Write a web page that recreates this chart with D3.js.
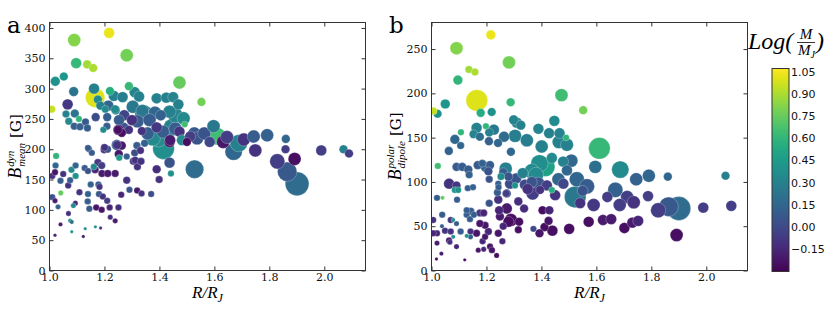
<!DOCTYPE html>
<html>
<head>
<meta charset="utf-8">
<script src="https://cdn.jsdelivr.net/npm/d3@7"></script>
<style>
  body { margin: 0; background: #fff; }
  svg { display: block; }
</style>
</head>
<body>
<svg id="chart" width="830" height="312"></svg>
<script>
// each point: [R/RJ, B (G), log(M/MJ), size value]
const meanField = [
  [1.217,392,1.03,25],[1.09,380,0.82,36],[1.097,342,0.62,25],[1.137,340,0.88,16],[1.159,334,0.9,16],
  [1.281,355,0.78,36],[1.021,312,0.4,20],[1.052,320,0.42,16],[1.088,295,0.22,20],[1.166,285,1.0,81],
  [1.162,300,0.3,25],[1.176,282,0.35,16],[1.22,296,0.55,16],[1.289,304,0.62,16],[1.473,310,0.75,36],
  [1.553,278,0.78,16],[1.008,266,0.95,12],[1.066,274,-0.08,25],[1.06,258,0.3,12],[1.092,259,0.22,16],
  [1.07,246,0.35,12],[1.09,238,0.1,12],[1.107,250,0.6,9],[1.111,237,0.12,12],[1.131,245,0.08,12],
  [1.138,235,0.1,12],[1.168,253,0.02,16],[1.185,272,0.3,16],[1.214,272,0.15,25],[1.241,264,0.3,16],
  [1.21,253,0.1,16],[1.196,232,0.35,9],[1.209,238,0.1,12],[1.234,288,0.3,25],[1.266,286,0.28,25],
  [1.31,294,0.32,25],[1.326,287,0.3,25],[1.39,284,0.3,25],[1.425,285,0.3,25],[1.45,286,0.32,25],
  [1.469,274,0.3,25],[1.303,270,0.25,36],[1.338,263,0.25,36],[1.342,259,0.28,64],[1.384,260,0.15,36],
  [1.272,256,-0.02,25],[1.253,248,0.1,25],[1.3,248,-0.1,25],[1.32,246,0.1,36],[1.405,256,0.12,25],
  [1.364,248,0.1,36],[1.437,262,0.3,36],[1.458,256,0.32,49],[1.488,251,0.35,36],[1.492,241,0.65,9],
  [1.446,236,0.3,64],[1.251,232,-0.2,25],[1.267,234,0.05,36],[1.289,232,-0.1,16],[1.336,230,-0.1,16],
  [1.357,226,0.1,36],[1.39,236,-0.08,25],[1.413,229,0.1,36],[1.376,218,0.35,49],[1.397,218,0.35,64],
  [1.415,201,0.38,100],[1.437,212,-0.25,25],[1.458,234,0.1,36],[1.473,229,-0.1,25],[1.482,215,0.35,25],
  [1.5,212,-0.25,16],[1.512,221,-0.05,25],[1.527,226,0.08,36],[1.537,218,0.05,36],[1.563,226,0.05,36],
  [1.583,212,0.0,25],[1.597,238,0.25,36],[1.612,221,0.65,64],[1.632,212,-0.22,36],[1.646,220,-0.05,36],
  [1.67,196,0.15,64],[1.689,210,0.3,64],[1.707,216,-0.1,36],[1.749,198,-0.1,36],[1.743,221,0.1,36],
  [1.792,223,0.12,36],[1.86,217,0.15,16],[1.859,200,-0.05,16],[1.989,198,-0.05,25],[2.07,200,0.3,16],
  [2.09,193,-0.05,16],[1.829,180,-0.05,49],[1.892,184,-0.25,36],[1.865,163,0.08,81],[1.901,143,0.18,121],
  [1.528,167,0.18,72],[1.144,200,0.12,9],[1.154,194,0.1,9],[1.199,199,-0.1,12],[1.211,200,0.05,12],
  [1.245,207,0.1,25],[1.252,192,-0.22,16],[1.263,206,-0.2,16],[1.281,188,0.1,9],[1.31,194,0.02,12],
  [1.318,206,0.1,12],[1.331,198,-0.1,12],[1.346,210,0.12,12],[1.024,189,0.6,9],[1.254,186,0.45,9],
  [1.022,173,0.15,9],[1.01,156,-0.1,9],[1.02,162,-0.22,9],[1.05,159,-0.1,9],[1.04,148,0.1,9],
  [1.068,140,-0.1,9],[1.075,149,0.1,9],[1.08,166,0.35,9],[1.095,173,0.15,9],[1.095,156,0.4,9],
  [1.01,121,0.05,9],[1.02,115,-0.2,6],[1.041,128,0.75,6],[1.031,105,0.12,6],[1.109,129,-0.1,9],
  [1.094,111,-0.15,6],[1.087,107,0.35,6],[1.069,94,-0.1,6],[1.075,82,0.4,4],[1.081,80,0.2,4],
  [1.04,76,-0.2,4],[1.081,64,0.45,2.5],[1.02,58,-0.2,2.5],[1.123,56,-0.2,2.5],[1.13,69,0.4,2.5],
  [1.167,72,0.4,2.5],[1.186,70,-0.1,2.5],[1.14,126,0.12,9],[1.139,114,0.1,9],[1.145,102,0.08,9],
  [1.15,142,0.12,9],[1.128,169,0.1,9],[1.14,164,0.05,9],[1.161,171,0.35,9],[1.166,166,-0.15,12],
  [1.176,178,-0.08,12],[1.19,173,-0.05,12],[1.191,160,-0.2,12],[1.212,160,-0.2,12],[1.239,160,-0.2,12],
  [1.178,142,0.1,9],[1.182,138,-0.1,9],[1.18,126,0.08,9],[1.194,122,-0.1,9],[1.21,115,-0.05,9],
  [1.17,104,-0.22,9],[1.19,100,-0.22,9],[1.219,104,-0.15,9],[1.251,104,-0.12,9],[1.221,88,-0.12,6],
  [1.239,82,-0.2,6],[1.261,125,-0.15,9],[1.281,149,-0.1,12],[1.291,133,0.05,9],[1.319,132,-0.22,9],
  [1.335,127,-0.1,9],[1.37,126,0.02,9],[1.305,180,-0.05,12],[1.32,171,-0.1,12],[1.39,167,-0.12,16],
  [1.399,150,-0.1,12],[1.437,178,0.05,25],[1.442,160,0.4,9],[1.312,182,-0.1,12],[1.333,180,-0.1,12],
  [1.2,203,-0.1,12],[1.246,207,-0.1,16],[1.14,202,0.08,9],[1.263,227,-0.25,16],[1.249,232,-0.25,16],
  [1.439,215,-0.2,25],[1.203,266,0.35,12],[1.239,266,0.35,16]
];

const dipoleField = [
  [1.216,266,1.03,20],[1.091,251,0.82,36],[1.136,227,0.88,12],[1.158,224,0.9,12],[1.282,235,0.78,36],
  [1.096,215,0.6,20],[1.165,192,1.0,100],[1.288,190,0.62,16],[1.473,198,0.65,36],[1.552,181,0.78,16],
  [1.007,180,0.95,12],[1.022,177,0.4,16],[1.05,188,0.42,20],[1.179,178,0.55,16],[1.219,179,0.4,16],
  [1.107,156,0.6,9],[1.085,148,0.15,20],[1.164,161,0.3,25],[1.153,154,0.32,16],[1.176,151,0.2,16],
  [1.227,159,0.25,25],[1.198,163,0.6,9],[1.21,156,0.3,16],[1.209,146,0.12,16],[1.242,144,0.15,16],
  [1.264,151,0.18,25],[1.299,170,0.32,20],[1.31,167,0.3,25],[1.325,164,0.3,20],[1.304,152,0.28,36],
  [1.347,147,0.28,36],[1.389,160,0.32,25],[1.428,155,0.3,25],[1.447,169,0.35,25],[1.466,155,0.32,25],
  [1.49,150,0.6,9],[1.463,145,0.3,36],[1.493,142,0.3,36],[1.611,138,0.62,100],[1.401,140,0.3,36],
  [1.289,134,0.15,16],[1.063,135,0.12,16],[1.106,141,0.15,12],[1.023,118,0.65,9],[1.064,98,-0.1,25],
  [1.091,96,-0.08,16],[1.085,91,0.4,9],[1.097,91,0.4,9],[1.091,117,0.1,16],[1.112,117,0.1,16],
  [1.134,114,0.1,16],[1.137,108,0.12,12],[1.168,119,0.1,16],[1.198,117,0.15,25],[1.213,119,0.1,16],
  [1.207,112,0.05,16],[1.21,103,0.05,12],[1.185,121,0.12,12],[1.243,98,0.1,9],[1.253,106,0.35,12],
  [1.261,111,0.1,16],[1.27,115,0.3,36],[1.28,106,0.05,16],[1.286,98,0.02,25],[1.304,96,0.4,9],
  [1.308,104,0.05,25],[1.332,110,0.3,25],[1.34,97,0.0,25],[1.365,100,0.05,25],[1.365,112,0.35,49],
  [1.38,108,0.35,49],[1.393,121,0.38,64],[1.414,117,0.48,81],[1.438,127,0.35,25],[1.389,98,0.05,36],
  [1.395,91,-0.1,16],[1.368,87,-0.05,36],[1.438,91,0.55,9],[1.462,103,0.15,36],[1.479,123,0.3,25],
  [1.493,113,0.15,25],[1.529,103,0.15,49],[1.566,95,0.1,49],[1.523,83,0.25,100],[1.541,76,-0.1,25],
  [1.596,117,0.2,36],[1.687,114,0.35,64],[1.745,103,0.12,36],[1.791,107,0.15,36],[1.86,106,0.15,16],
  [2.07,107,0.3,16],[1.669,91,0.12,49],[1.712,83,-0.05,36],[1.64,83,-0.05,25],[1.59,74,-0.08,36],
  [1.685,74,-0.05,36],[1.736,77,-0.1,36],[1.788,84,-0.05,25],[1.825,68,-0.05,49],[1.863,72,0.08,81],
  [1.9,70,0.18,121],[1.989,71,-0.05,25],[2.091,73,-0.05,25],[1.892,40,-0.25,36],[1.624,57,-0.2,25],
  [1.654,58,-0.2,25],[1.572,55,-0.25,25],[1.702,48,-0.25,25],[1.731,54,-0.2,25],[1.752,56,-0.15,25],
  [1.501,47,-0.25,25],[1.44,45,-0.25,25],[1.411,49,-0.25,16],[1.393,42,-0.22,16],[1.371,47,0.0,9],
  [1.426,56,-0.22,16],[1.404,68,-0.25,16],[1.429,68,-0.15,16],[1.337,70,-0.12,16],[1.316,78,-0.12,16],
  [1.289,57,-0.25,36],[1.28,55,-0.25,25],[1.319,55,-0.25,16],[1.316,46,-0.25,12],[1.274,70,-0.2,25],
  [1.249,61,-0.2,16],[1.246,68,-0.15,16],[1.243,80,-0.1,16],[1.274,87,0.05,16],[1.261,50,-0.15,12],
  [1.243,42,-0.22,12],[1.258,33,-0.15,9],[1.237,17,-0.25,6],[1.213,27,-0.22,9],[1.22,23,-0.22,9],
  [1.207,44,-0.15,12],[1.195,51,-0.22,12],[1.176,53,-0.22,12],[1.186,33,-0.15,9],[1.195,38,-0.22,9],
  [1.17,23,-0.22,6],[1.19,24,-0.15,6],[1.164,42,-0.22,12],[1.142,44,-0.12,9],[1.142,38,0.1,6],
  [1.128,39,0.4,4],[1.106,44,0.1,9],[1.128,63,0.1,9],[1.143,67,0.1,12],[1.128,68,0.1,9],
  [1.14,58,0.1,9],[1.154,63,0.1,9],[1.176,65,-0.1,12],[1.19,65,-0.15,12],[1.21,76,0.05,12],
  [1.24,88,0.1,12],[1.091,53,0.1,6],[1.07,57,-0.1,9],[1.079,57,0.4,4],[1.049,45,-0.1,9],
  [1.07,44,-0.1,9],[1.079,38,0.4,4],[1.064,34,-0.2,9],[1.067,32,-0.12,6],[1.091,27,-0.15,6],
  [1.038,50,0.1,4],[1.039,63,0.1,9],[1.006,57,-0.1,9],[1.02,42,-0.15,9],[1.006,42,-0.15,9],
  [1.02,31,-0.2,6],[1.036,19,-0.2,4],[1.018,13,-0.25,2.5],[1.121,12,-0.25,2.5],[1.02,82,0.1,9],
  [1.04,82,0.75,4],[1.093,80,0.1,9],[1.132,93,0.1,9],[1.151,94,0.12,9],[1.244,94,0.1,9],
  [1.272,87,-0.05,12],[1.509,124,0.15,36],[1.35,92,-0.1,25],[1.42,96,-0.05,25],[1.45,85,-0.1,25],
  [1.48,98,0.0,25],[1.55,90,0.05,25]
];

const xTicks = [1.0, 1.2, 1.4, 1.6, 1.8, 2.0];
const yTicksMean = [0, 50, 100, 150, 200, 250, 300, 350, 400];
const yTicksDipole = [0, 50, 100, 150, 200, 250];
const cbTicks = [-0.15, 0.00, 0.15, 0.30, 0.45, 0.60, 0.75, 0.90, 1.05];

const svg = d3.select('#chart');
const serif = '"DejaVu Serif", serif';
const mathFont = '"Liberation Serif", "DejaVu Serif", serif';
const frameColor = '#333';

const color = d3.scaleSequential(d3.interpolateViridis).domain([-0.3, 1.072]);
const size = d3.scaleSqrt().domain([0, 100]).range([0, 10.8]);

function drawPanel(o) {
  const x = d3.scaleLinear().domain([1.0, 2.15]).range([o.left, o.right]);
  const y = d3.scaleLinear().domain([0, o.yMax]).range([o.bottom, o.top]);
  const g = svg.append('g');

  g.append('clipPath').attr('id', o.id + '-clip')
    .append('rect')
    .attr('x', o.left).attr('y', o.top)
    .attr('width', o.right - o.left).attr('height', o.bottom - o.top);

  const pts = o.data.slice().sort((a, b) => b[3] - a[3]);
  g.append('g').attr('clip-path', `url(#${o.id}-clip)`)
    .selectAll('circle').data(pts).join('circle')
    .attr('cx', d => x(d[0]))
    .attr('cy', d => y(d[1]))
    .attr('r', d => size(d[3]))
    .attr('fill', d => color(d[2]))
    .attr('stroke', '#fff')
    .attr('stroke-width', 0.5)
    .attr('stroke-opacity', 0.5);

  // axes, ticks pointing inwards on all four sides
  const styleAxis = sel => {
    sel.select('.domain').remove();
    sel.selectAll('line').attr('stroke', frameColor);
    sel.selectAll('text').attr('font-family', serif).attr('font-size', 11).attr('fill', '#111');
  };
  g.append('g').attr('transform', `translate(0,${o.bottom})`)
    .call(d3.axisBottom(x).tickValues(xTicks).tickSize(-4).tickPadding(3).tickFormat(d3.format('.1f')))
    .call(styleAxis);
  g.append('g').attr('transform', `translate(0,${o.top})`)
    .call(d3.axisTop(x).tickValues(xTicks).tickSize(-4).tickFormat(''))
    .call(styleAxis);
  g.append('g').attr('transform', `translate(${o.left},0)`)
    .call(d3.axisLeft(y).tickValues(o.yTicks).tickSize(-4).tickPadding(4))
    .call(styleAxis);
  g.append('g').attr('transform', `translate(${o.right},0)`)
    .call(d3.axisRight(y).tickValues(o.yTicks).tickSize(-4).tickFormat(''))
    .call(styleAxis);

  g.append('rect')
    .attr('x', o.left).attr('y', o.top)
    .attr('width', o.right - o.left).attr('height', o.bottom - o.top)
    .attr('fill', 'none').attr('stroke', frameColor).attr('stroke-width', 1);

  // x label R/R_J
  const xl = g.append('text')
    .attr('x', (o.left + o.right) / 2).attr('y', 298)
    .attr('text-anchor', 'middle')
    .attr('font-family', mathFont).attr('font-style', 'italic').attr('font-size', 17);
  xl.append('tspan').text('R/R');
  xl.append('tspan').attr('font-size', 12).attr('dy', 4).text('J');

  // y label B^sup_sub [G], rotated
  const yl = g.append('g').attr('transform', `translate(${o.labelX},${(o.top + o.bottom) / 2}) rotate(-90)`);
  const bTxt = yl.append('text').attr('font-family', mathFont).attr('font-style', 'italic')
    .attr('font-size', 18).text('B');
  const supTxt = yl.append('text').attr('font-family', mathFont).attr('font-style', 'italic')
    .attr('font-size', 11).attr('y', -7).text(o.sup);
  const subTxt = yl.append('text').attr('font-family', mathFont).attr('font-style', 'italic')
    .attr('font-size', 11).attr('y', 4).text(o.sub);
  const gTxt = yl.append('text').attr('font-family', serif).attr('font-size', 15).text('[G]');
  const wB = bTxt.node().getComputedTextLength();
  const wS = Math.max(supTxt.node().getComputedTextLength(), subTxt.node().getComputedTextLength());
  const wG = gTxt.node().getComputedTextLength();
  const total = wB + 1 + wS + 5 + wG;
  let cx = -total / 2;
  bTxt.attr('x', cx); cx += wB + 1;
  supTxt.attr('x', cx); subTxt.attr('x', cx); cx += wS + 5;
  gTxt.attr('x', cx);

  // panel letter
  svg.append('text').attr('x', o.letterX).attr('y', 33)
    .attr('font-family', serif).attr('font-size', 23).attr('fill', '#000')
    .text(o.letter);
}

drawPanel({
  id: 'pa', data: meanField, left: 49.5, right: 365.5, top: 22.5, bottom: 270.5,
  yMax: 409, yTicks: yTicksMean, sup: 'dyn', sub: 'mean', labelX: 21, letter: 'a', letterX: 7
});
drawPanel({
  id: 'pb', data: dipoleField, left: 431.5, right: 747.5, top: 22.5, bottom: 270.5,
  yMax: 280, yTicks: yTicksDipole, sup: 'polar', sub: 'dipole', labelX: 401, letter: 'b', letterX: 389
});

// colorbar
const cb = { x: 772, y: 68.5, w: 17, h: 203 };
const cbScale = d3.scaleLinear().domain([-0.3, 1.072]).range([cb.y + cb.h, cb.y]);
const grad = svg.append('defs').append('linearGradient')
  .attr('id', 'cbgrad').attr('x1', 0).attr('y1', 1).attr('x2', 0).attr('y2', 0);
d3.range(0, 1.0001, 0.05).forEach(t => {
  grad.append('stop').attr('offset', t).attr('stop-color', d3.interpolateViridis(t));
});
svg.append('rect').attr('x', cb.x).attr('y', cb.y).attr('width', cb.w).attr('height', cb.h)
  .attr('fill', 'url(#cbgrad)').attr('stroke', frameColor).attr('stroke-width', 1);
svg.append('g').selectAll('text').data(cbTicks).join('text')
  .attr('x', cb.x + cb.w + 2).attr('y', d => cbScale(d)).attr('dy', '0.35em')
  .attr('font-family', '"DejaVu Sans", sans-serif').attr('font-size', 11).attr('fill', '#111')
  .text(d3.format('.2f'));

// colorbar title Log(M/M_J)
const ct = svg.append('g').attr('font-family', mathFont).attr('font-style', 'italic');
ct.append('text').attr('x', 748).attr('y', 49).attr('font-size', 24).text('Log(');
ct.append('text').attr('x', 806).attr('y', 39).attr('text-anchor', 'middle').attr('font-size', 15).text('M');
ct.append('line').attr('x1', 797).attr('x2', 815).attr('y1', 42.5).attr('y2', 42.5)
  .attr('stroke', '#000').attr('stroke-width', 0.8);
const den = ct.append('text').attr('x', 798).attr('y', 55).attr('font-size', 15);
den.append('tspan').text('M');
den.append('tspan').attr('font-size', 10).attr('dy', 3).text('J');
ct.append('text').attr('x', 816).attr('y', 49).attr('font-size', 24).text(')');
</script>
</body>
</html>
